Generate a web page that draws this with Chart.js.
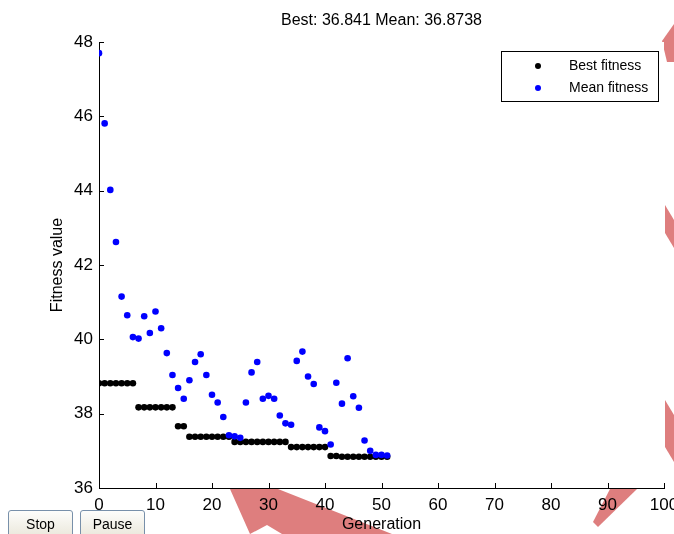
<!DOCTYPE html>
<html>
<head>
<meta charset="utf-8">
<title>GA fitness</title>
<script src="https://cdn.jsdelivr.net/npm/chart.js@4.4.1/dist/chart.umd.min.js"></script>
<style>
  html, body { margin: 0; padding: 0; background: #fff; overflow: hidden; }
  #wrap { position: relative; width: 674px; height: 534px; overflow: hidden; }
  #arrows { position: absolute; left: 0; top: 0; }
  #chart { position: absolute; left: 0; top: 0; }
  .btn {
    position: absolute; top: 510px; width: 65px; height: 27px;
    box-sizing: border-box; padding: 0;
    border: 1px solid #7890aa; border-radius: 3px;
    background: linear-gradient(#fdfdfb, #ebe8dc);
    font: 14px "Liberation Sans", Arial, sans-serif; color: #000;
  }
</style>
</head>
<body>
<div id="wrap">
  <!-- the red annotation arrows sit under the plot, like in the screenshot -->
  <svg id="arrows" width="674" height="534">
    <g fill="#de7e7e">
      <polygon points="230,489 278,489 392,534 282,534 267,525 250,534"/>
      <polygon points="610,489 637,489 598,527 593,522"/>
      <polygon points="662,41 674,24 674,62 667,62"/>
      <polygon points="665,205 674,220 674,248 665,233"/>
      <polygon points="665,400 674,415 674,462 665,447"/>
    </g>
  </svg>
  <canvas id="chart" width="674" height="534"></canvas>
  <button class="btn" style="left:8px">Stop</button>
  <button class="btn" style="left:80px">Pause</button>
</div>
<script>
const generations = [0, 1, 2, 3, 4, 5, 6, 7, 8, 9, 10, 11, 12, 13, 14, 15, 16, 17, 18, 19, 20,
  21, 22, 23, 24, 25, 26, 27, 28, 29, 30, 31, 32, 33, 34, 35, 36, 37, 38, 39, 40,
  41, 42, 43, 44, 45, 46, 47, 48, 49, 50, 51];

const bestFitness = [38.82, 38.82, 38.82, 38.82, 38.82, 38.82, 38.82,
  38.17, 38.17, 38.17, 38.17, 38.17, 38.17, 38.17,
  37.66, 37.66,
  37.38, 37.38, 37.38, 37.38, 37.38, 37.38, 37.38, 37.38,
  37.24, 37.24, 37.24, 37.24, 37.24, 37.24, 37.24, 37.24, 37.24, 37.24,
  37.10, 37.10, 37.10, 37.10, 37.10, 37.10, 37.10,
  36.86, 36.86,
  36.841, 36.841, 36.841, 36.841, 36.841, 36.841, 36.841, 36.841, 36.841];

const meanFitness = [47.70, 45.81, 44.02, 42.62, 41.15, 40.65, 40.06, 40.02, 40.62, 40.17,
  40.75, 40.30, 39.63, 39.04, 38.69, 38.40, 38.90, 39.39, 39.60, 39.04,
  38.51, 38.30, 37.91, 37.42, 37.39, 37.35, 38.30, 39.11, 39.39, 38.40,
  38.48, 38.40, 37.95, 37.74, 37.70, 39.42, 39.67, 39.00, 38.80, 37.63,
  37.53, 37.17, 38.83, 38.27, 39.49, 38.47, 38.16, 37.28, 37.00, 36.89,
  36.89, 36.8738];

const xTicks = [0, 10, 20, 30, 40, 50, 60, 70, 80, 90, 100];
const yTicks = [36, 38, 40, 42, 44, 46, 48];

const FONT = '"Liberation Sans", Arial, Helvetica, sans-serif';
Chart.defaults.font.family = FONT;
Chart.defaults.color = '#000';

const toPoints = ys => generations.map((g, i) => ({x: g, y: ys[i]}));

// white axes background, so the arrows only show outside of it
const plotBackground = {
  id: 'plotBackground',
  beforeDraw(chart) {
    const {ctx, chartArea: a} = chart;
    ctx.save();
    ctx.fillStyle = '#fff';
    ctx.fillRect(a.left, a.top, a.right - a.left, a.bottom - a.top);
    ctx.restore();
  }
};

// matlab style tick marks pointing into the plot
const inwardTicks = {
  id: 'inwardTicks',
  afterDraw(chart) {
    const {ctx, chartArea: a, scales: {x, y}} = chart;
    ctx.save();
    ctx.strokeStyle = '#000';
    ctx.lineWidth = 1;
    ctx.beginPath();
    x.ticks.forEach(t => {
      const px = Math.round(x.getPixelForValue(t.value)) + 0.5;
      ctx.moveTo(px, a.bottom);
      ctx.lineTo(px, a.bottom - 5);
    });
    y.ticks.forEach(t => {
      const py = Math.round(y.getPixelForValue(t.value)) + 0.5;
      ctx.moveTo(a.left, py);
      ctx.lineTo(a.left + 5, py);
    });
    ctx.stroke();
    ctx.restore();
  }
};

const titleText = {
  id: 'titleText',
  afterDraw(chart) {
    const {ctx, chartArea: a} = chart;
    const n = generations.length - 1;
    ctx.save();
    ctx.font = '16px ' + FONT;
    ctx.fillStyle = '#000';
    ctx.textAlign = 'center';
    ctx.textBaseline = 'middle';
    ctx.fillText('Best: ' + bestFitness[n] + ' Mean: ' + meanFitness[n], (a.left + a.right) / 2, 21);
    ctx.restore();
  }
};

// legend with a frame, top right inside the axes
const boxedLegend = {
  id: 'boxedLegend',
  afterDraw(chart) {
    const {ctx, chartArea: a} = chart;
    const w = 157, h = 50;
    const x0 = a.right - 6 - w, y0 = a.top + 9;
    ctx.save();
    ctx.fillStyle = '#fff';
    ctx.fillRect(x0, y0, w, h);
    ctx.strokeStyle = '#000';
    ctx.lineWidth = 1;
    ctx.strokeRect(x0 + 0.5, y0 + 0.5, w, h);
    ctx.font = '14px ' + FONT;
    ctx.textBaseline = 'middle';
    chart.data.datasets.forEach((ds, i) => {
      const cy = y0 + 15 + i * 22;
      ctx.fillStyle = ds.backgroundColor;
      ctx.beginPath();
      ctx.arc(x0 + 37, cy, 3, 0, Math.PI * 2);
      ctx.fill();
      ctx.fillStyle = '#000';
      ctx.fillText(ds.label, x0 + 68, cy);
    });
    ctx.restore();
  }
};

new Chart(document.getElementById('chart'), {
  type: 'scatter',
  data: {
    datasets: [{
      label: 'Best fitness',
      data: toPoints(bestFitness),
      backgroundColor: '#000000',
      borderColor: '#000000',
      borderWidth: 0,
      pointRadius: 3.3,
      order: 1
    }, {
      label: 'Mean fitness',
      data: toPoints(meanFitness),
      backgroundColor: '#0000ff',
      borderColor: '#0000ff',
      borderWidth: 0,
      pointRadius: 3.3,
      order: 0
    }]
  },
  options: {
    responsive: false,
    animation: false,
    layout: {padding: {top: 42, right: 10, bottom: 0, left: 0}},
    plugins: {
      legend: {display: false},
      title: {display: false},
      tooltip: {enabled: false}
    },
    scales: {
      x: {
        type: 'linear',
        min: 0,
        max: 100,
        afterBuildTicks: s => { s.ticks = xTicks.map(v => ({value: v})); },
        grid: {display: false, drawTicks: false},
        border: {display: true, color: '#000', width: 1},
        ticks: {font: {size: 17}, padding: 7, maxRotation: 0, autoSkip: false},
        title: {display: true, text: 'Generation', font: {size: 16}, padding: {top: 0, bottom: 0}},
        afterFit: s => { s.height = 46; s.paddingLeft = 0; s.paddingRight = 0; }
      },
      y: {
        type: 'linear',
        min: 36,
        max: 48,
        afterBuildTicks: s => { s.ticks = yTicks.map(v => ({value: v})); },
        grid: {display: false, drawTicks: false},
        border: {display: true, color: '#000', width: 1},
        ticks: {font: {size: 17}, padding: 6},
        title: {display: true, text: 'Fitness value', font: {size: 16}, padding: {top: 48, bottom: 0}},
        afterFit: s => { s.width = 99; s.paddingTop = 0; s.paddingBottom = 0; }
      }
    }
  },
  plugins: [plotBackground, inwardTicks, titleText, boxedLegend]
});
</script>
</body>
</html>
